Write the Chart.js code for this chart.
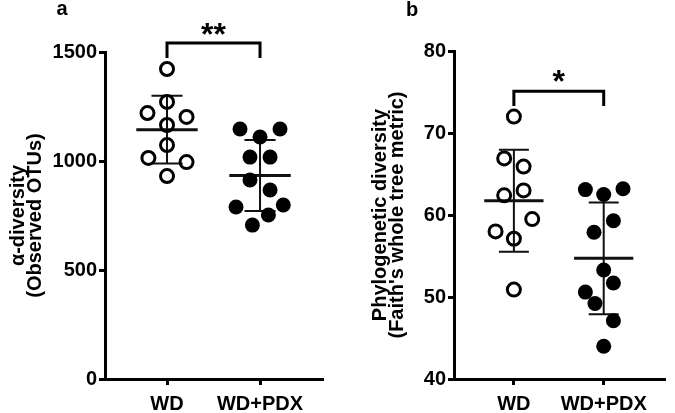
<!DOCTYPE html>
<html>
<head>
<meta charset="utf-8">
<script src="https://cdn.jsdelivr.net/npm/chart.js@4.4.1/dist/chart.umd.min.js"></script>
<style>
    body { margin: 0; background: #fff; width: 675px; height: 413px; position: relative; overflow: hidden; }
    canvas { position: absolute; top: 0; }
    #chartA { left: 0; }
    #chartB { left: 340px; }
</style>
</head>
<body>
<canvas id="chartA" width="335" height="413"></canvas>
<canvas id="chartB" width="335" height="413"></canvas>
<script>
// Group names on the x axis
const GROUPS = ['WD', 'WD+PDX'];

// Panel a: observed OTUs
const otusWD = [1422, 1271, 1220, 1202, 1165, 1073, 1014, 995, 931];
const otusWDJitter = [0, 0, -0.21, 0.21, 0, 0, -0.2, 0.21, 0];
const otusPDX = [1147, 1147, 1110, 1018, 1018, 913, 867, 789, 798, 752, 706];
const otusPDXJitter = [-0.215, 0.215, 0, -0.108, 0.108, -0.108, 0.108, -0.258, 0.25, 0.09, -0.082];
const otusTicks = [0, 500, 1000, 1500];

// Panel b: Faith's phylogenetic diversity
const pdWD = [72, 66.9, 65.9, 63, 62.4, 59.5, 58, 57.1, 50.9];
const pdWDJitter = [0, -0.108, 0.108, 0.108, -0.108, 0.204, -0.204, 0, 0];
const pdPDX = [63.1, 62.5, 63.2, 59.3, 57.9, 53.3, 51.7, 50.6, 49.2, 47.1, 44.0];
const pdPDXJitter = [-0.204, 0, 0.215, 0.108, -0.108, 0, 0.108, -0.204, -0.097, 0.108, 0];
const pdTicks = [40, 50, 60, 70, 80];

const FONT = '"Liberation Sans", Arial, Helvetica, sans-serif';

function meanSd(values) {
    const m = values.reduce((a, b) => a + b, 0) / values.length;
    const v = values.reduce((a, b) => a + (b - m) * (b - m), 0) / (values.length - 1);
    return { mean: m, sd: Math.sqrt(v) };
}

// sd whisker and caps for one group, broken up with null points
function errorBars(g, values) {
    const { mean, sd } = meanSd(values);
    const cap = 0.167;
    return [
        { x: g, y: mean - sd }, { x: g, y: mean + sd }, { x: null, y: null },
        { x: g - cap, y: mean + sd }, { x: g + cap, y: mean + sd }, { x: null, y: null },
        { x: g - cap, y: mean - sd }, { x: g + cap, y: mean - sd }
    ];
}

function meanLine(g, values) {
    const { mean } = meanSd(values);
    return [{ x: g - 0.33, y: mean }, { x: g + 0.33, y: mean }];
}

const sigMarks = {
    id: 'sigMarks',
    afterDraw(chart, args, opts) {
        const { ctx } = chart;
        const x = chart.scales.x, y = chart.scales.y;
        ctx.save();
        ctx.fillStyle = '#000';
        ctx.textAlign = 'center';
        ctx.textBaseline = 'middle';
        ctx.font = 'bold 32px ' + FONT;
        ctx.fillText(opts.stars, x.getPixelForValue(1.5), y.getPixelForValue(opts.starY));
        ctx.font = 'bold 20px ' + FONT;
        ctx.fillText(opts.letter, opts.letterX, opts.letterY);
        ctx.restore();
    }
};

function createPanel(id, cfg) {
    const datasets = [{
        data: cfg.wd.map((v, i) => ({ x: 1 + cfg.wdJitter[i], y: v })),
        pointRadius: 6.5,
        pointBorderWidth: 3,
        pointBorderColor: '#000',
        pointBackgroundColor: 'rgba(0,0,0,0)'
    }, {
        data: cfg.pdx.map((v, i) => ({ x: 2 + cfg.pdxJitter[i], y: v })),
        pointRadius: 7.5,
        pointBorderWidth: 0,
        pointBackgroundColor: '#000'
    }, {
        data: errorBars(1, cfg.wd).concat([{ x: null, y: null }], errorBars(2, cfg.pdx)),
        showLine: true,
        borderColor: '#111',
        borderWidth: 2,
        pointRadius: 0
    }, {
        data: meanLine(1, cfg.wd).concat([{ x: null, y: null }], meanLine(2, cfg.pdx)),
        showLine: true,
        borderColor: '#111',
        borderWidth: 3,
        pointRadius: 0
    }, {
        data: [{ x: 1, y: cfg.bracket[0] }, { x: 1, y: cfg.bracket[1] }, { x: 2, y: cfg.bracket[1] }, { x: 2, y: cfg.bracket[0] }],
        showLine: true,
        borderColor: '#000',
        borderWidth: 3,
        pointRadius: 0,
        clip: false
    }];

    return new Chart(document.getElementById(id), {
        type: 'scatter',
        data: { datasets },
        plugins: [sigMarks],
        options: {
            responsive: false,
            animation: false,
            events: [],
            layout: { padding: { top: cfg.top, right: cfg.right, left: 0, bottom: 0 } },
            plugins: {
                legend: { display: false },
                tooltip: { enabled: false },
                sigMarks: { stars: cfg.stars, starY: cfg.starY, letter: cfg.letter, letterX: cfg.letterX, letterY: cfg.letterY }
            },
            scales: {
                x: {
                    type: 'linear',
                    min: 1 / 3,
                    max: cfg.xMax,
                    afterBuildTicks: s => { s.ticks = [{ value: 1 }, { value: 2 }]; },
                    afterFit: s => { s.height = 34; },
                    border: { display: true, color: '#000', width: 3 },
                    grid: { drawOnChartArea: false, drawTicks: true, tickLength: 6, tickWidth: 3, tickColor: '#000' },
                    ticks: {
                        padding: 7,
                        color: '#000',
                        font: { family: FONT, size: 20, weight: 'bold' },
                        callback: v => GROUPS[v - 1]
                    }
                },
                y: {
                    min: cfg.ticks[0],
                    max: cfg.ticks[cfg.ticks.length - 1],
                    afterBuildTicks: s => { s.ticks = cfg.ticks.map(v => ({ value: v })); },
                    afterFit: s => { s.width = cfg.axisLeft; },
                    border: { display: true, color: '#000', width: 3 },
                    grid: { drawOnChartArea: false, drawTicks: true, tickLength: 6, tickWidth: 3, tickColor: '#000' },
                    ticks: {
                        padding: 2,
                        color: '#000',
                        font: { family: FONT, size: 20, weight: 'bold' },
                        callback: v => String(v)
                    },
                    title: {
                        display: true,
                        text: cfg.title,
                        color: '#000',
                        padding: { top: cfg.titlePad, bottom: 0 },
                        font: { family: FONT, size: 20, weight: 'bold', lineHeight: 0.86 }
                    }
                }
            }
        }
    });
}

createPanel('chartA', {
    wd: otusWD, wdJitter: otusWDJitter, pdx: otusPDX, pdxJitter: otusPDXJitter,
    ticks: otusTicks,
    title: ['\u03b1-diversity', '(Observed OTUs)'],
    bracket: [1472, 1541], stars: '**', starY: 1573,
    letter: 'a', letterX: 62, letterY: 9,
    top: 52, right: 12, axisLeft: 105, titlePad: 9.5, xMax: 2.677
});

createPanel('chartB', {
    wd: pdWD, wdJitter: pdWDJitter, pdx: pdPDX, pdxJitter: pdPDXJitter,
    ticks: pdTicks,
    title: ['Phylogenetic diversity', "(Faith's whole tree metric)"],
    bracket: [73.3, 75.1], stars: '*', starY: 76.1,
    letter: 'b', letterX: 72, letterY: 10,
    top: 51, right: 2, axisLeft: 114, titlePad: 31.5, xMax: 2.688
});
</script>
</body>
</html>
